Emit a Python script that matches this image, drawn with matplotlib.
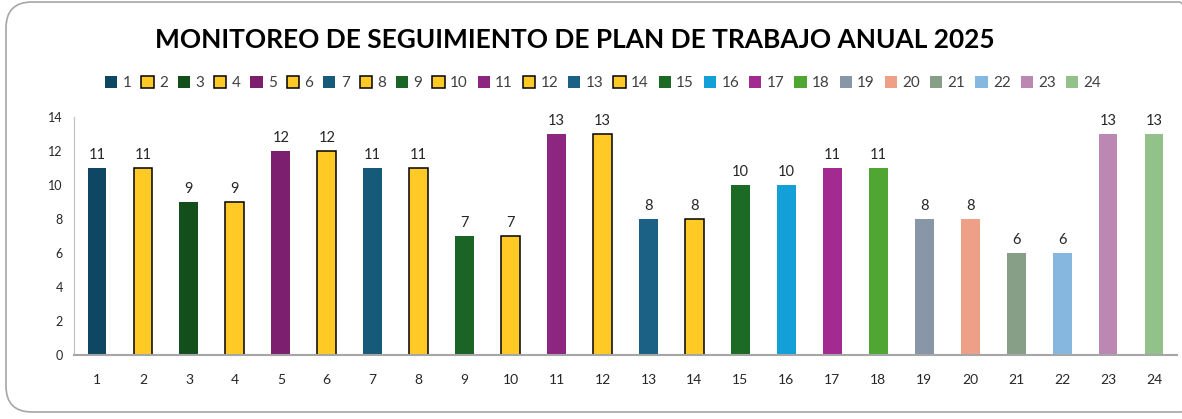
import matplotlib
matplotlib.use("Agg")
import matplotlib.pyplot as plt
from matplotlib.patches import FancyBboxPatch

categories = [str(i) for i in range(1, 25)]
values = [11, 11, 9, 9, 12, 12, 11, 11, 7, 7, 13, 13, 8, 8, 10, 10, 11, 11, 8, 8, 6, 6, 13, 13]
colors = ["#0E4763", "#FFC926", "#134F1B", "#FFC926", "#7B1F6E", "#FFC926",
          "#155A78", "#FFC926", "#1A6425", "#FFC926", "#8D2680", "#FFC926",
          "#1B6186", "#FFC926", "#1B6A25", "#139FD8", "#A22A91", "#4FA632",
          "#8797A8", "#EEA087", "#869F86", "#86B8DF", "#BD87B3", "#92C18A"]
outlined = [False, True, False, True, False, True, False, True, False, True, False, True,
            False, True, False, False, False, False, False, False, False, False, False, False]
yticks = [0, 2, 4, 6, 8, 10, 12, 14]
title = "MONITOREO DE SEGUIMIENTO DE PLAN DE TRABAJO ANUAL 2025"

plt.rcParams['font.family'] = ['Lato', 'DejaVu Sans']

W, H = 1182, 419
fig = plt.figure(figsize=(W / 100, H / 100), dpi=100)

# outer rounded border
border = FancyBboxPatch((6 / W, 7 / H), (1205 - 6) / W, (417 - 7) / H,
                        boxstyle="round,pad=0,rounding_size=0.022",
                        transform=fig.transFigure, fill=False,
                        edgecolor="#A6A6A6", linewidth=1.2, mutation_aspect=W / H)
fig.patches.append(border)

ax = fig.add_axes([74 / W, (H - 355) / H, 1103 / W, (355 - 117) / H])
x = list(range(len(categories)))
handles = []
for i, (c, v, col, ol) in enumerate(zip(categories, values, colors, outlined)):
    b = ax.bar(i, v, width=0.41, color=col,
               edgecolor="black" if ol else col,
               linewidth=1.1 if ol else 0, label=c, zorder=2)
    handles.append(b)
    ax.text(i, v + 0.35, str(v), ha="center", va="bottom", fontsize=10.5, color="#262626")

ax.set_xlim(-0.5, len(categories) - 0.5)
ax.set_ylim(0, 14)
ax.set_yticks(yticks)
ax.set_xticks(x)
ax.set_xticklabels(categories)
ax.tick_params(axis="x", length=0, pad=14, labelsize=10, labelcolor="#262626")
ax.tick_params(axis="y", length=0, pad=8, labelsize=9, labelcolor="#262626")
for s in ["top", "right"]:
    ax.spines[s].set_visible(False)
ax.spines["left"].set_color("#BFBFBF")
ax.spines["bottom"].set_color("#A6A6A6")
ax.spines["bottom"].set_linewidth(1.5)

fig.text(575 / W, (H - 40) / H, title, ha="center", va="center",
         fontsize=18.9, fontweight="bold", color="black")

leg = fig.legend(handles=handles, labels=categories, loc="center",
                 bbox_to_anchor=(603 / W, (H - 83) / H), ncol=24, frameon=False,
                 fontsize=11, handlelength=0.8, handleheight=0.8,
                 handletextpad=0.35, columnspacing=0.65, borderaxespad=0)
for t in leg.get_texts():
    t.set_color("#404040")

fig.savefig("out.png", dpi=100)
